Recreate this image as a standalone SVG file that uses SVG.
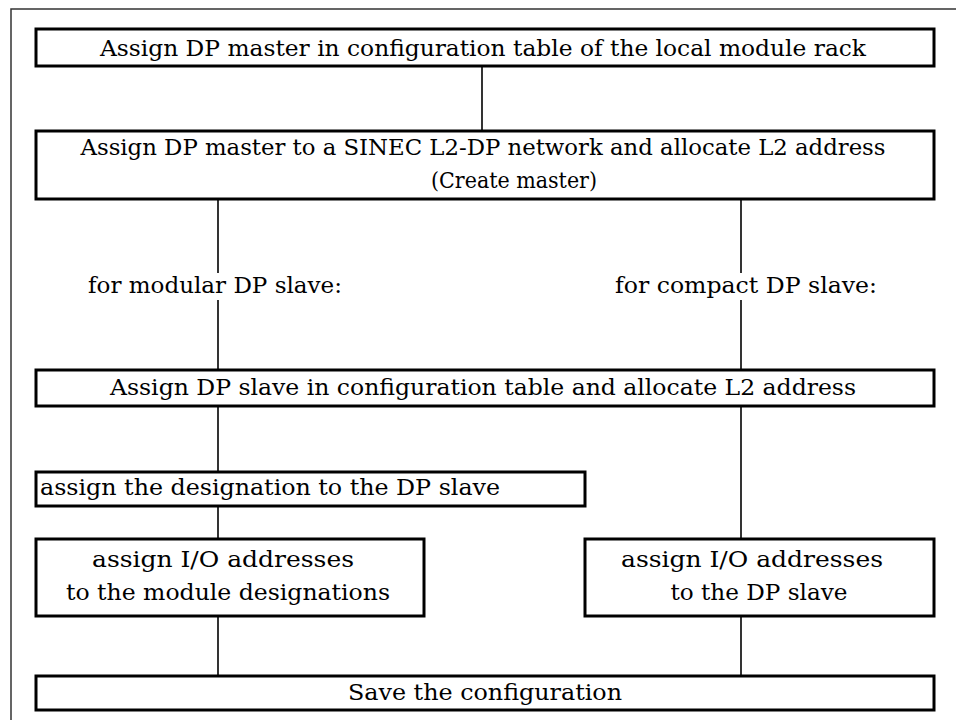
<svg xmlns="http://www.w3.org/2000/svg" width="956" height="720" viewBox="0 0 956 720">
<style>
.frame{fill:none;stroke:#333;stroke-width:1.5}
.box{fill:#fff;stroke:#000;stroke-width:3}
.conn{fill:none;stroke:#000;stroke-width:1.6}
text{font-family:"DejaVu Serif Condensed","DejaVu Serif","Liberation Serif",serif;font-size:22px;fill:#000}
.c{text-anchor:middle}
.l{text-anchor:start}
</style>
<rect width="956" height="720" fill="#fff"/>
<path class="frame" d="M11,730 V9 H970"/>
<g id="connectors">
<line class="conn" x1="482" y1="66" x2="482" y2="131"/>
<line class="conn" x1="218" y1="199" x2="218" y2="273"/>
<line class="conn" x1="218" y1="300" x2="218" y2="370"/>
<line class="conn" x1="741" y1="199" x2="741" y2="273"/>
<line class="conn" x1="741" y1="300" x2="741" y2="370"/>
<line class="conn" x1="218" y1="406" x2="218" y2="472"/>
<line class="conn" x1="741" y1="406" x2="741" y2="539"/>
<line class="conn" x1="218" y1="506" x2="218" y2="539"/>
<line class="conn" x1="218" y1="616" x2="218" y2="676"/>
<line class="conn" x1="741" y1="616" x2="741" y2="676"/>
</g>
<g id="n1">
<rect class="box" x="36" y="29" width="898" height="37"/>
<text class="c" x="483" y="56" textLength="766" lengthAdjust="spacingAndGlyphs">Assign DP master in configuration table of the local module rack</text>
</g>
<g id="n2">
<rect class="box" x="36" y="131" width="898" height="68"/>
<text class="c" x="483" y="155" textLength="805" lengthAdjust="spacingAndGlyphs">Assign DP master to a SINEC L2-DP network and allocate L2 address</text>
<text class="l" x="431" y="188" textLength="166" lengthAdjust="spacingAndGlyphs">(Create master)</text>
</g>
<g id="lbl1">
<text class="c" x="215" y="293" textLength="254" lengthAdjust="spacingAndGlyphs">for modular DP slave:</text>
</g>
<g id="lbl2">
<text class="c" x="746" y="293" textLength="262" lengthAdjust="spacingAndGlyphs">for compact DP slave:</text>
</g>
<g id="n3">
<rect class="box" x="36" y="370" width="898" height="36"/>
<text class="c" x="483" y="395" textLength="746" lengthAdjust="spacingAndGlyphs">Assign DP slave in configuration table and allocate L2 address</text>
</g>
<g id="n4">
<rect class="box" x="36" y="472" width="549" height="34"/>
<text class="l" x="40" y="495" textLength="460" lengthAdjust="spacingAndGlyphs">assign the designation to the DP slave</text>
</g>
<g id="n5">
<rect class="box" x="36" y="539" width="388" height="77"/>
<text class="c" x="223" y="567" textLength="262" lengthAdjust="spacingAndGlyphs">assign I/O addresses</text>
<text class="c" x="228" y="600" textLength="324" lengthAdjust="spacingAndGlyphs">to the module designations</text>
</g>
<g id="n6">
<rect class="box" x="585" y="539" width="349" height="77"/>
<text class="c" x="752" y="567" textLength="262" lengthAdjust="spacingAndGlyphs">assign I/O addresses</text>
<text class="c" x="759" y="600" textLength="177" lengthAdjust="spacingAndGlyphs">to the DP slave</text>
</g>
<g id="n7">
<rect class="box" x="36" y="676" width="898" height="34"/>
<text class="c" x="485" y="700" textLength="274" lengthAdjust="spacingAndGlyphs">Save the configuration</text>
</g>
</svg>
